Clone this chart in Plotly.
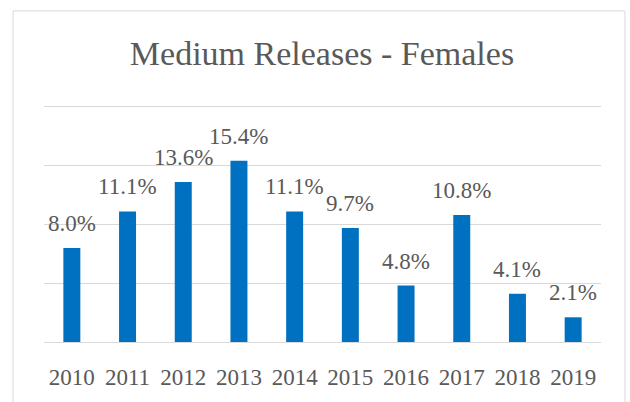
import plotly.graph_objects as go

years = ["2010", "2011", "2012", "2013", "2014", "2015", "2016", "2017", "2018", "2019"]
values = [8.0, 11.1, 13.6, 15.4, 11.1, 9.7, 4.8, 10.8, 4.1, 2.1]
labels = [f"{v:.1f}%" for v in values]
pos = list(range(len(years)))

FONT = "Liberation Serif"
TXT = "#595959"
GRID = "#D9D9D9"

W, H = 630, 402
YMAX = 20.4
unit = (344 - 107) / 20.0          # px per percent
L = 43.5
R = W - 601.5
B = H - 344
T = 107 - (YMAX - 20) * unit
pw, ph = W - L - R, H - T - B

fig = go.Figure()
fig.add_trace(go.Bar(x=pos, y=values, width=0.305,
                     marker=dict(color="#0070C0", line=dict(width=0)),
                     hoverinfo="skip"))

for p, v, lab in zip(pos, values, labels):
    fig.add_annotation(x=p, y=v, xref="x", yref="y", text=lab, showarrow=False,
                       yanchor="bottom", yshift=10,
                       font=dict(family=FONT, size=23, color=TXT))

def px_x(p):
    return (p - L) / pw

def px_y(p):
    return (H - B - p) / ph

fig.add_shape(type="rect", xref="paper", yref="paper",
              x0=px_x(12.5), x1=px_x(625.5), y0=px_y(440), y1=px_y(10.5),
              line=dict(color=GRID, width=1), fillcolor="rgba(0,0,0,0)", layer="below")

fig.update_layout(
    width=W, height=H,
    margin=dict(l=L, r=R, t=T, b=B, pad=0),
    paper_bgcolor="white", plot_bgcolor="white",
    showlegend=False,
    title=dict(text="Medium Releases - Females", x=322 / W, xanchor="center",
               xref="container", yref="container", y=1 - 41 / H, yanchor="top",
               font=dict(family=FONT, size=34, color=TXT)),
    xaxis=dict(range=[-0.5, 9.5], tickvals=pos, ticktext=years,
               showgrid=False, showline=False, zeroline=False, fixedrange=True,
               tickfont=dict(family=FONT, size=23, color=TXT),
               ticks="outside", ticklen=14, tickcolor="rgba(0,0,0,0)"),
    yaxis=dict(range=[0, YMAX], tickvals=[0, 5, 10, 15, 20], showticklabels=False,
               showgrid=True, gridcolor=GRID, gridwidth=1, zeroline=True,
               zerolinecolor=GRID, zerolinewidth=1, showline=False, fixedrange=True),
)

fig.write_html("out.html", config={"displayModeBar": False},
               post_script="document.documentElement.style.margin='0';"
                           "document.body.style.margin='0';"
                           "document.body.style.overflow='hidden';")
